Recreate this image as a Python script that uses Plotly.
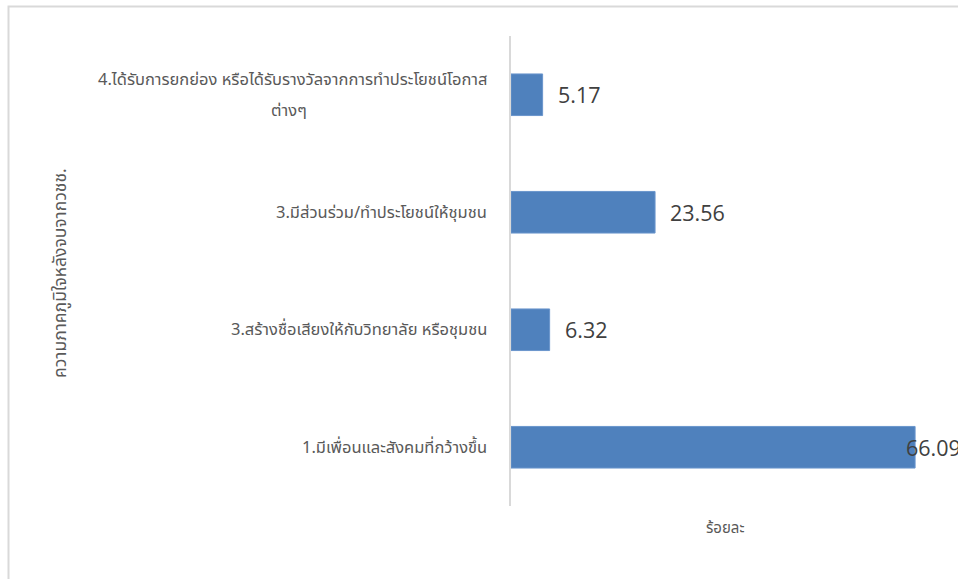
import plotly.graph_objects as go

# ---- data ----
categories = [
    "1.มีเพื่อนและสังคมที่กว้างขึ้น",
    "3.สร้างชื่อเสียงให้กับวิทยาลัย หรือชุมชน",
    "3.มีส่วนร่วม/ทำประโยชน์ให้ชุมชน",
    "4.ได้รับการยกย่อง หรือได้รับรางวัลจากการทำประโยชน์โอกาส\nต่างๆ",
]
values = [66.09, 6.32, 23.56, 5.17]
value_labels = ["66.09", "6.32", "23.56", "5.17"]
y_title = "ความภาคภูมิใจหลังจบจากวชช."
x_title = "ร้อยละ"

# ---- geometry / style ----
W, H = 958, 579
ML, MR, MT, MB = 511, 19, 36, 73
XMAX = 70
plot_w = W - ML - MR
plot_h = H - MT - MB
scale = plot_w / XMAX

BAR = "#4F81BD"
GRID = "#D9D9D9"
TXT = "#595959"
VAL = "#404040"
THAI_FONT = "Noto Sans Thai, Tahoma, Noto Sans, sans-serif"
NUM_FONT = "Open Sans, Noto Sans, sans-serif"
CAT_SIZE = 16.5
LABEL_GAP = 22          # px between category label and axis
WRAP_CENTER = 222       # px from axis to centre of wrapped label block
LINE = 31               # line spacing of wrapped labels

fig = go.Figure()
fig.add_trace(go.Bar(
    x=values, y=categories, orientation="h",
    marker=dict(color=BAR, line=dict(color="#6A95CC", width=1)),
    hoverinfo="x+y",
))

annotations = []
# category labels (multi-line labels centred on the bar, lines centred)
for cat in categories:
    lines = cat.split("\n")
    n = len(lines)
    for i, ln in enumerate(lines):
        if n == 1 or i == 0:
            anchor, shift = "right", -LABEL_GAP
        else:
            anchor, shift = "center", -WRAP_CENTER
        annotations.append(dict(
            x=0, xref="paper", y=cat, yref="y",
            text=ln, showarrow=False, xanchor=anchor,
            xshift=shift, yshift=(n - 1) / 2 * LINE - i * LINE,
            font=dict(family=THAI_FONT, size=CAT_SIZE, color=TXT),
        ))

# value labels
for cat, v, lab in zip(categories, values, value_labels):
    est_w = 11 * len(lab)
    shift = 13
    if v * scale + shift + est_w > plot_w + MR:
        shift = -11
    annotations.append(dict(
        x=v, xref="x", y=cat, yref="y", text=lab, showarrow=False,
        xanchor="left", xshift=shift,
        font=dict(family=NUM_FONT, size=21.5, color=VAL),
    ))

# axis titles
annotations.append(dict(
    x=0, xref="paper", xshift=-451, y=0.5, yref="paper", yshift=-2, text=y_title,
    textangle=-90, showarrow=False, xanchor="center", yanchor="middle",
    font=dict(family=THAI_FONT, size=17.5, color=TXT),
))
annotations.append(dict(
    x=0.5, xref="paper", y=0, yref="paper", yshift=-22, text=x_title,
    showarrow=False, xanchor="center", yanchor="middle",
    font=dict(family=THAI_FONT, size=15, color=TXT),
))

fig.update_layout(
    width=W, height=H,
    margin=dict(l=ML, r=MR, t=MT, b=MB, pad=0),
    paper_bgcolor="white", plot_bgcolor="white",
    showlegend=False,
    bargap=0.646,
    annotations=annotations,
    xaxis=dict(range=[0, XMAX], showgrid=False, zeroline=False,
               showticklabels=False, showline=False, ticks=""),
    yaxis=dict(type="category", categoryorder="array", categoryarray=categories,
               showgrid=False, zeroline=False, showticklabels=False,
               showline=True, linecolor=GRID, linewidth=2, ticks=""),
    shapes=[dict(
        type="rect", xref="paper", yref="paper",
        x0=(8.5 - ML) / plot_w, x1=(W + 20 - ML) / plot_w,
        y0=(H - MB - (H + 20)) / plot_h, y1=(H - MB - 6.5) / plot_h,
        line=dict(color=GRID, width=2), fillcolor="rgba(0,0,0,0)", layer="below",
    )],
)

fig.write_html(
    "out.html",
    config={"displayModeBar": False},
    post_script="document.body.style.margin='0';document.body.style.overflow='hidden';",
)
